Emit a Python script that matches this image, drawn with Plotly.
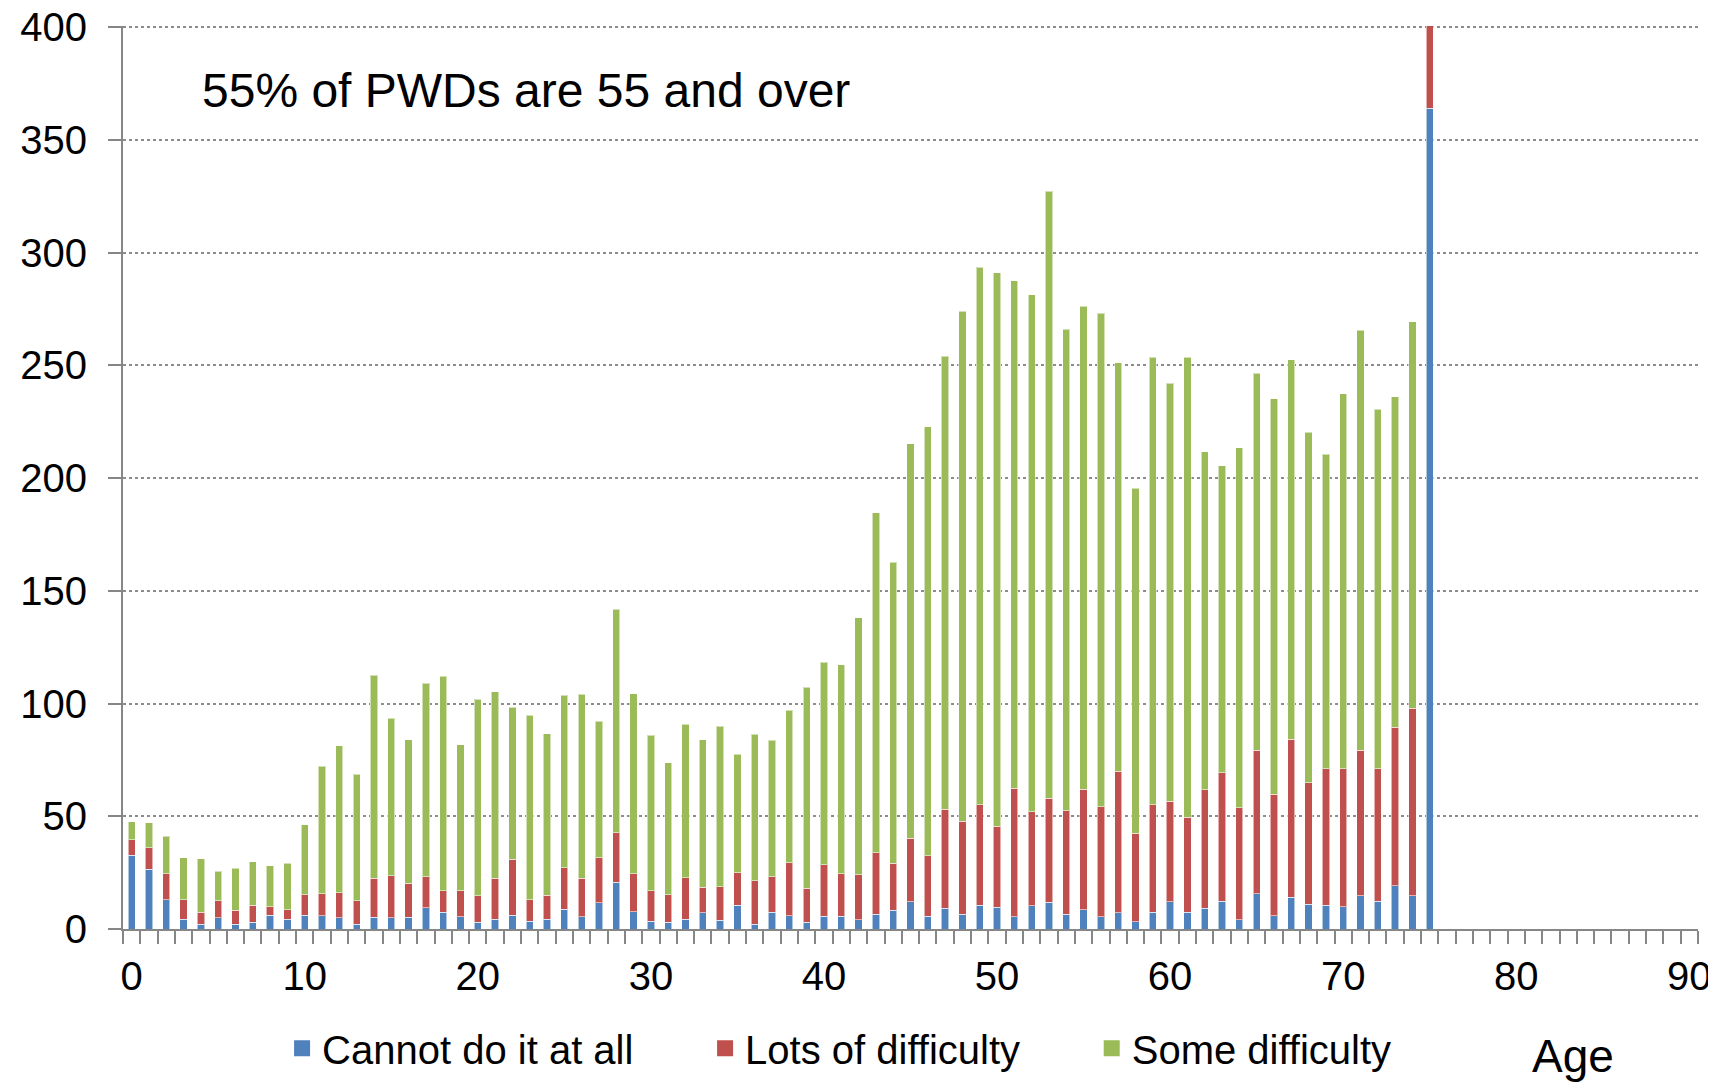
import plotly.graph_objects as go

ages = list(range(0, 76))

cannot = [32.8, 26.5, 13.0, 4.3, 2.1, 5.0, 2.1, 3.1, 6.2, 4.3,
          6.2, 5.8, 4.9, 2.2, 5.2, 4.9, 5.2, 9.5, 7.4, 5.5,
          3.0, 4.3, 6.2, 3.4, 4.3, 8.7, 5.5, 11.7, 20.7, 7.7,
          3.4, 3.1, 4.3, 7.1, 3.8, 10.5, 2.1, 7.4, 5.9, 3.0,
          5.6, 5.6, 4.1, 6.6, 8.4, 12.0, 5.7, 9.3, 6.6, 10.6,
          9.7, 5.4, 10.4, 11.8, 6.6, 8.6, 5.4, 7.2, 3.2, 7.5,
          12.0, 7.5, 9.3, 12.2, 4.2, 15.6, 5.9, 14.0, 11.0, 10.5,
          9.9, 14.8, 12.4, 19.1, 14.8, 364.0]

lots = [6.8, 9.6, 11.5, 8.7, 5.3, 7.6, 6.2, 7.5, 3.6, 4.3,
        9.0, 9.9, 11.2, 10.4, 17.3, 18.8, 15.2, 13.7, 9.6, 11.4,
        11.8, 18.2, 24.8, 9.6, 10.6, 18.5, 17.0, 19.9, 21.9, 16.8,
        13.6, 12.1, 18.5, 11.4, 15.0, 14.5, 19.3, 15.8, 23.4, 15.0,
        22.9, 19.0, 19.9, 27.3, 20.8, 28.3, 26.9, 43.9, 41.1, 44.6,
        35.8, 57.0, 41.6, 46.1, 45.9, 53.4, 48.9, 62.7, 39.3, 47.7,
        44.6, 42.0, 52.5, 57.0, 49.5, 63.7, 53.8, 70.1, 53.8, 60.5,
        61.1, 64.5, 58.6, 70.4, 83.0, 40.0]

some = [8.0, 11.0, 16.7, 18.6, 23.8, 13.1, 18.6, 19.3, 18.3, 20.5,
        31.1, 56.5, 65.1, 56.0, 90.1, 69.7, 63.6, 85.9, 95.2, 64.8,
        87.2, 82.7, 67.3, 81.8, 71.7, 76.4, 81.6, 60.6, 99.2, 79.9,
        69.0, 58.6, 68.0, 65.5, 71.2, 52.6, 64.9, 60.5, 67.8, 89.2,
        89.9, 92.5, 114.0, 150.7, 133.4, 175.0, 190.2, 200.8, 226.2, 238.4,
        245.6, 225.1, 229.4, 269.4, 213.5, 214.2, 218.7, 181.2, 152.9, 198.4,
        185.4, 204.1, 149.9, 136.3, 159.8, 167.2, 175.5, 168.3, 155.6, 139.5,
        166.4, 186.3, 159.6, 146.5, 171.6, 0.0]

series_names = ["Cannot do it at all", "Lots of difficulty", "Some difficulty"]
series_colors = ["#4F81BD", "#C0504D", "#9BBB59"]
x_tick_vals = [0, 10, 20, 30, 40, 50, 60, 70, 80, 90]
y_tick_vals = [0, 50, 100, 150, 200, 250, 300, 350, 400]

FONT = "Liberation Sans, Arial, sans-serif"
NBSP = "\u00a0"
legend_pad = [6, 6, 0]  # trailing non-breaking spaces to space legend entries

fig = go.Figure()
for name, vals, col in zip(series_names, [cannot, lots, some], series_colors):
    fig.add_trace(go.Bar(
        x=ages, y=vals, name=name, showlegend=False, legendgroup=name,
        marker=dict(color=col, line=dict(color="rgba(255,255,255,0.55)", width=1)),
    ))
# legend entries with larger square swatches
for name, col, pad in zip(series_names, series_colors, legend_pad):
    fig.add_trace(go.Scatter(
        x=[None], y=[None], mode="markers", name=name + NBSP * pad, legendgroup=name,
        marker=dict(symbol="square", size=21, color=col),
    ))

axis_gray = "#868686"
# the page body adds an 8px offset, so the figure is 8px smaller and margins compensate
fig.update_layout(
    width=1708, height=1078,
    barmode="stack", bargap=0.58,
    paper_bgcolor="white", plot_bgcolor="white",
    margin=dict(l=115, r=18, t=18, b=157, autoexpand=False),
    font=dict(family=FONT, color="black", size=40),
    showlegend=True,
    legend=dict(orientation="h", x=0.101, xanchor="left", y=-0.132, yanchor="middle",
                font=dict(size=40, family=FONT),
                bgcolor="rgba(0,0,0,0)", traceorder="normal", itemsizing="trace"),
    xaxis=dict(range=[-0.5, 90.5], tickmode="array", tickvals=x_tick_vals,
               ticktext=[str(v) for v in x_tick_vals], ticks="", automargin=False,
               showline=True, linecolor=axis_gray, linewidth=2,
               showgrid=False, zeroline=False, ticklabeloverflow="allow",
               tickfont=dict(size=40), ticklabelstandoff=11,
               minor=dict(ticks="outside", tick0=0.5, dtick=1, ticklen=13,
                          tickwidth=2, tickcolor=axis_gray, showgrid=False)),
    yaxis=dict(range=[0, 400.5], tickmode="array", tickvals=y_tick_vals, automargin=False,
               ticks="outside", ticklen=13, tickwidth=2, tickcolor=axis_gray,
               showline=True, linecolor=axis_gray, linewidth=2,
               showgrid=True, gridcolor="#8c8c8c", gridwidth=1.5, griddash="dot",
               zeroline=False, tickfont=dict(size=40), ticklabelstandoff=13,
               ticklabeloverflow="allow"),
    annotations=[
        dict(text="55% of PWDs are 55 and over", xref="paper", yref="paper",
             x=0.049, y=0.929, xanchor="left", yanchor="middle", showarrow=False,
             font=dict(size=48, family=FONT, color="black")),
        dict(text="Age", xref="paper", yref="paper",
             x=0.9206, y=-0.172, xanchor="center", yanchor="bottom", showarrow=False,
             font=dict(size=46, family=FONT, color="black")),
    ],
)

fig.write_html("out.html")
